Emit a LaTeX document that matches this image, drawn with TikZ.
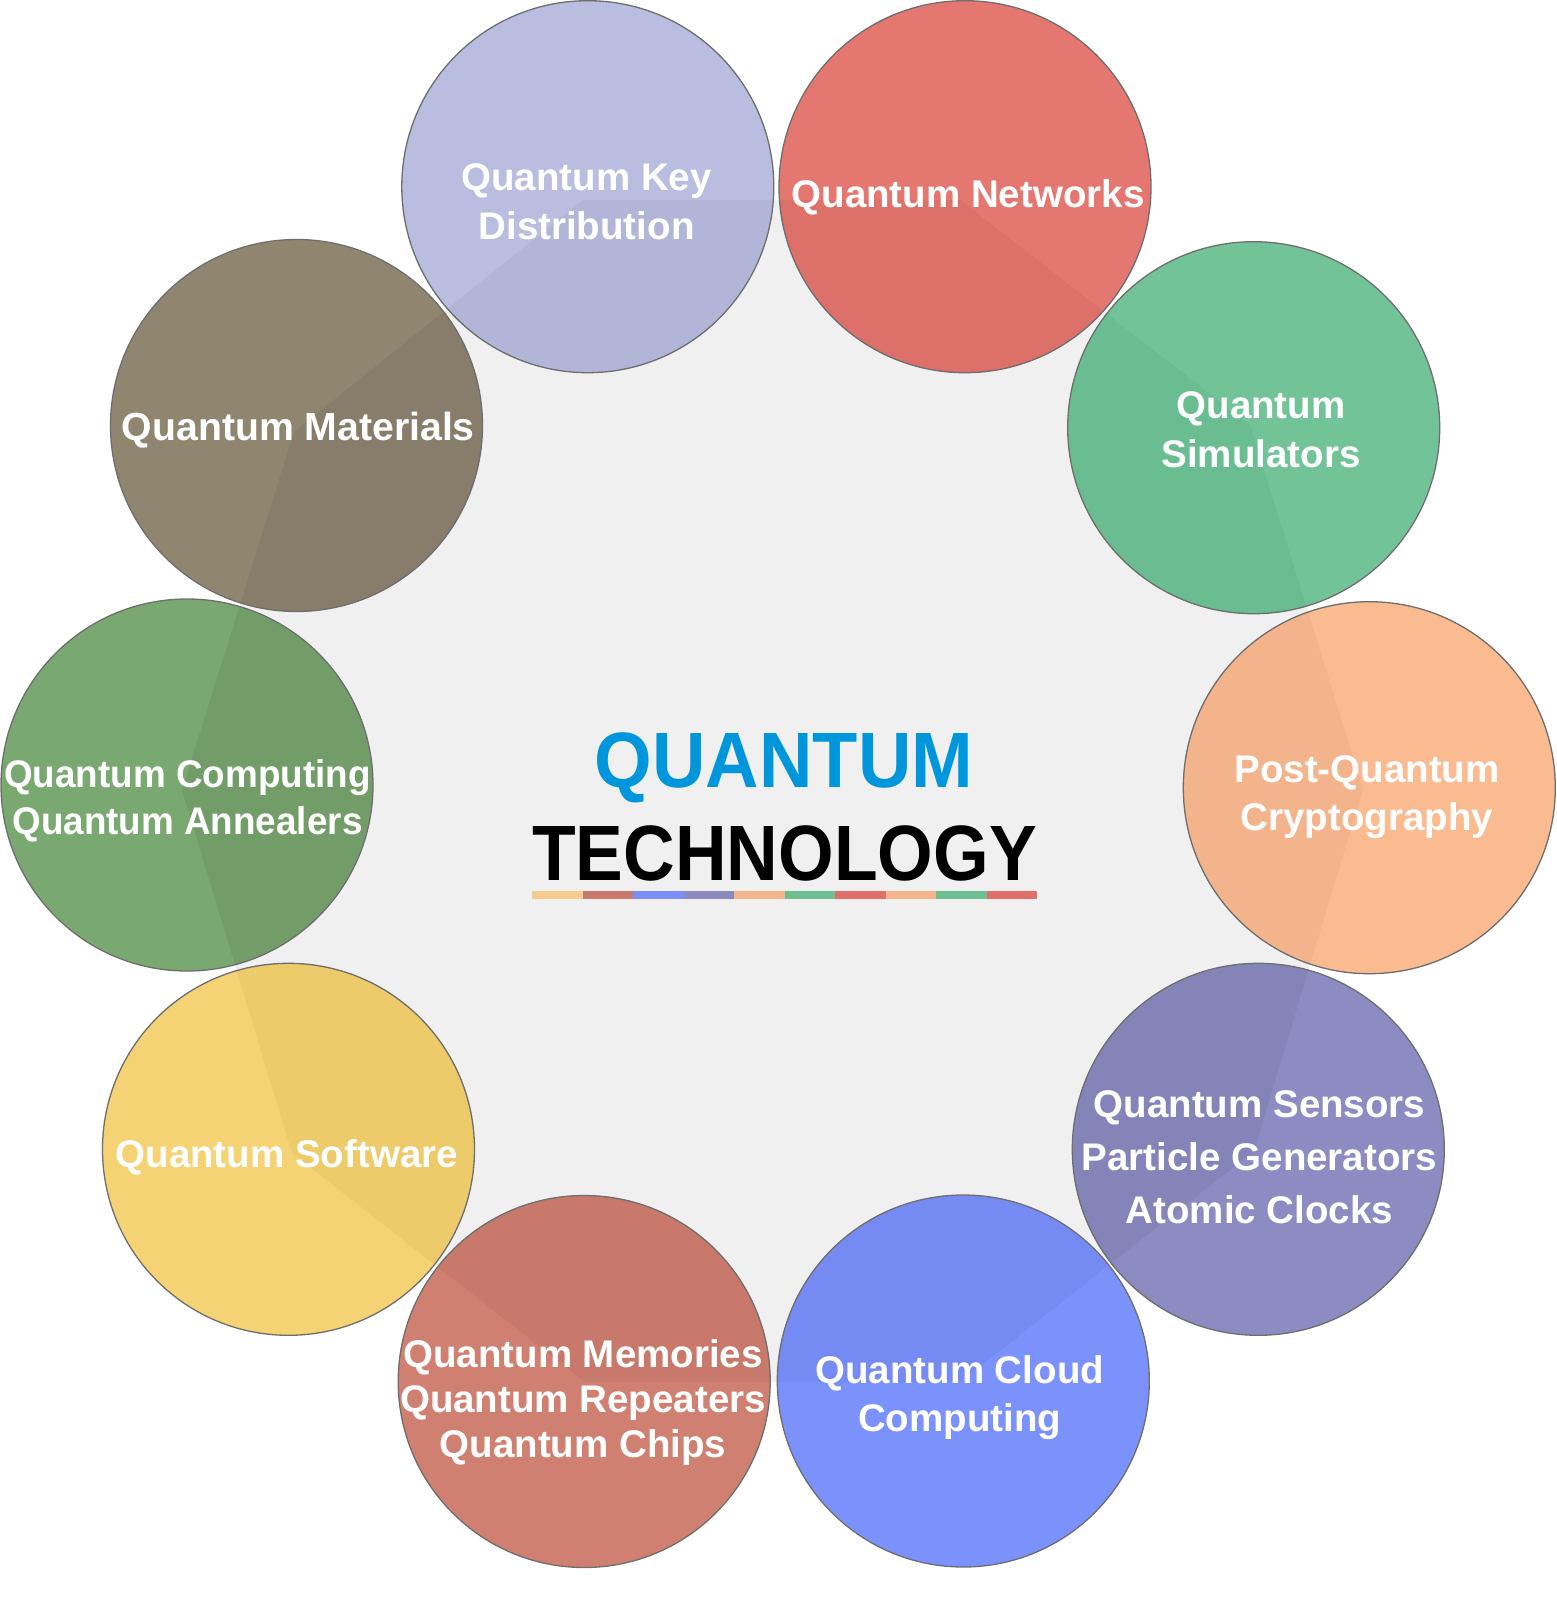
\documentclass[tikz,border=0pt]{standalone}
\usepackage{fontspec}
\setmainfont{Liberation Sans}
\newfontfamily\narrowfont[FakeStretch=0.957]{Liberation Sans}
\newfontfamily\titlefontA[FakeStretch=0.943]{Liberation Sans}
\newfontfamily\titlefontB[FakeStretch=0.911]{Liberation Sans}
\definecolor{bg}{HTML}{F0F0F0}
\definecolor{rim}{HTML}{6E6E6E}
\definecolor{qblue}{HTML}{0096DB}
% circle colours: light (over white) / dark (over grey)
\definecolor{qkdL}{HTML}{B9BDDF}\definecolor{qkdD}{HTML}{B1B5D7}
\definecolor{netL}{HTML}{E57771}\definecolor{netD}{HTML}{DE706A}
\definecolor{simL}{HTML}{72C398}\definecolor{simD}{HTML}{6ABC91}
\definecolor{pqcL}{HTML}{FABB91}\definecolor{pqcD}{HTML}{F3B48B}
\definecolor{senL}{HTML}{8C8CC2}\definecolor{senD}{HTML}{8484B9}
\definecolor{clcL}{HTML}{7B91FC}\definecolor{clcD}{HTML}{758BF3}
\definecolor{memL}{HTML}{D08070}\definecolor{memD}{HTML}{C8796B}
\definecolor{sofL}{HTML}{F5D374}\definecolor{sofD}{HTML}{EDCB6A}
\definecolor{cmpL}{HTML}{79A870}\definecolor{cmpD}{HTML}{729D69}
\definecolor{matL}{HTML}{908670}\definecolor{matD}{HTML}{887D6A}
% underline bar colours
\definecolor{barA}{HTML}{F5CD8C}\definecolor{barB}{HTML}{C87A6C}
\definecolor{barC}{HTML}{7B8EF5}\definecolor{barD}{HTML}{8A8AC0}
\definecolor{barE}{HTML}{F5B48C}\definecolor{barF}{HTML}{6EBF90}
\definecolor{barG}{HTML}{DF706A}
\newcommand\qbubble[4]{%
  \fill[#3] (#2) circle[radius=186pt];
  \begin{scope}
    \clip (V1)--(V2)--(V3)--(V4)--(V5)--(V6)--(V7)--(V8)--(V9)--(V10)--cycle;
    \fill[#4] (#2) circle[radius=186pt];
  \end{scope}
  \node[bubble] (#1) at (#2) {};
}
\begin{document}
\begin{tikzpicture}[x=1pt,y=-1pt,
  bubble/.style={circle,draw=rim,line width=1.3pt,minimum size=372pt,inner sep=0pt},
  lbl/.style={font=\bfseries\fontsize{38.5}{#1}\selectfont,text=white,align=center,inner sep=0pt},
  lbl/.default=48.5,
  ttlA/.style={font=\titlefontA\bfseries\fontsize{78.5}{90}\selectfont,inner sep=0pt,anchor=base},
  ttlB/.style={font=\titlefontB\bfseries\fontsize{78.5}{90}\selectfont,inner sep=0pt,anchor=base}]
\useasboundingbox (0,0) rectangle (1556,1600);
\fill[white] (0,0) rectangle (1556,1600);
% grey decagon behind the circles
\coordinate (V1) at (583,200);
\coordinate (V2) at (960,200);
\coordinate (V3) at (1250,425);
\coordinate (V4) at (1363,789);
\coordinate (V5) at (1254,1151);
\coordinate (V6) at (960,1382);
\coordinate (V7) at (585,1382);
\coordinate (V8) at (292,1153);
\coordinate (V9) at (182,790);
\coordinate (V10) at (294,432);
\fill[bg] (V1)--(V2)--(V3)--(V4)--(V5)--(V6)--(V7)--(V8)--(V9)--(V10)--cycle;
% circle centres
\coordinate (pQKD) at (587.8,186.7);
\coordinate (pNET) at (965,186.7);
\coordinate (pSIM) at (1253.7,427.7);
\coordinate (pPQC) at (1369.3,787.7);
\coordinate (pSEN) at (1258.3,1149.3);
\coordinate (pCLC) at (963.3,1381);
\coordinate (pMEM) at (584.2,1381.5);
\coordinate (pSOF) at (288.5,1149.3);
\coordinate (pCMP) at (187,785);
\coordinate (pMAT) at (296.5,425.5);
\qbubble{qkd}{pQKD}{qkdL}{qkdD}
\qbubble{net}{pNET}{netL}{netD}
\qbubble{sim}{pSIM}{simL}{simD}
\qbubble{pqc}{pPQC}{pqcL}{pqcD}
\qbubble{sen}{pSEN}{senL}{senD}
\qbubble{clc}{pCLC}{clcL}{clcD}
\qbubble{mem}{pMEM}{memL}{memD}
\qbubble{sof}{pSOF}{sofL}{sofD}
\qbubble{cmp}{pCMP}{cmpL}{cmpD}
\qbubble{mat}{pMAT}{matL}{matD}
% labels
\node[lbl=48.6] (tqkd) at (586.5,205.3) {\strut Quantum Key\\Distribution\strut};
\node[lbl] (tnet) at (968,197.6) {\strut Quantum Networks\strut};
\node[lbl=49] (tsim) at (1261,433) {\strut Quantum\\Simulators\strut};
\node[lbl=48] (tpqc) at (1367,797.1) {\strut Post-Quantum\\Cryptography\strut};
\node[lbl=53] (tsen) at (1259.5,1160.2) {\strut Quantum Sensors\\Particle Generators\\Atomic Clocks\strut};
\node[lbl=48.3] (tclc) at (959.7,1397.8) {\strut Quantum Cloud\\Computing\strut};
\node[lbl=44.7] (tmem) at (583,1403.5) {\strut Quantum Memories\\Quantum Repeaters\\Quantum Chips\strut};
\node[lbl] (tsof) at (286.7,1157.6) {\strut Quantum Software\strut};
\node[lbl=46.7,font=\narrowfont\bfseries\fontsize{38.5}{46.7}\selectfont] (tcmp) at (187.5,802) {\strut Quantum Computing\\Quantum Annealers\strut};
\node[lbl,font=\bfseries\fontsize{39.2}{48.5}\selectfont] (tmat) at (298.3,430.3) {\strut Quantum Materials\strut};
% title
\node[ttlA,text=qblue] (ttl1) at (784,787) {QUANTUM};
\node[ttlB,text=black] (ttl2) at (784.5,880.7) {TECHNOLOGY};
% coloured underline
\foreach \c [count=\i from 0] in {barA,barB,barC,barD,barE,barF,barG,barE,barF,barG}
  \fill[\c] ({532+50.5*\i},891) rectangle ++(50.5,8);
\end{tikzpicture}
\end{document}
